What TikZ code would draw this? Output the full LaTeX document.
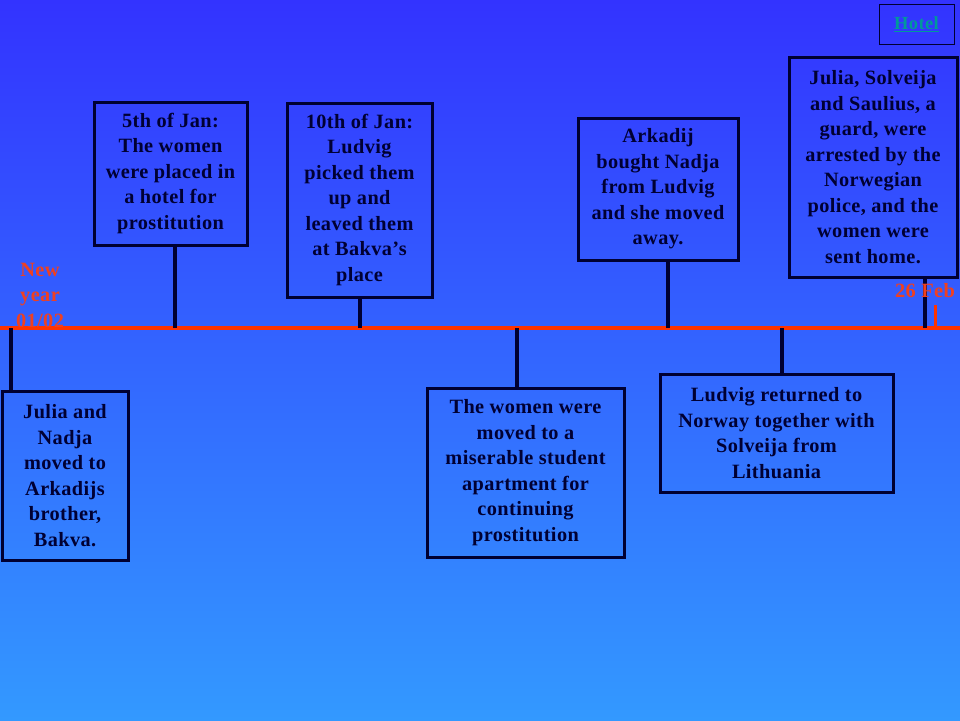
\documentclass[tikz,border=0pt]{standalone}
\usepackage{fontspec}
\setmainfont{Liberation Serif}
\newfontfamily\slidefont[LetterSpace=2]{Liberation Serif}
\definecolor{bgtop}{HTML}{3333FF}
\definecolor{bgbottom}{HTML}{3399FF}
\definecolor{ink}{HTML}{000033}
\definecolor{timered}{HTML}{FF3300}
\definecolor{datered}{HTML}{F04020}
\definecolor{linkteal}{HTML}{009999}
\begin{document}
\begin{tikzpicture}[x=1pt,y=-1pt]
\tikzstyle{event} = [rectangle, draw=ink, line width=3pt, text=ink, align=center, inner sep=0pt, font=\slidefont\bfseries\fontsize{20.3}{25.5}\selectfont]
\tikzstyle{stem} = [draw=ink, line width=3.5pt]
\tikzstyle{date} = [text=datered, align=center, font=\slidefont\bfseries\fontsize{20.3}{25.5}\selectfont]

\useasboundingbox (0,0) rectangle (960,720);
\shade[top color=bgtop, bottom color=bgbottom] (0,0) rectangle (960,720);

% timeline
\coordinate (start) at (0,328);
\coordinate (end) at (960,328);
\draw [draw=timered, line width=4pt] (start) -- (end);

% events
\node (bakva) [event, minimum width=126pt, minimum height=169pt] at (65,475.5) {Julia and\\Nadja\\moved to\\Arkadijs\\brother,\\Bakva.};
\node (hotelstay) [event, minimum width=153pt, minimum height=143pt] at (170.5,173.5) {5th of Jan:\\The women\\were placed in\\a hotel for\\prostitution};
\node (pickup) [event, minimum width=145pt, minimum height=194pt] at (359.5,200) {10th of Jan:\\Ludvig\\picked them\\up and\\leaved them\\at Bakva’s\\place};
\node (student) [event, minimum width=197pt, minimum height=169pt] at (525.5,472.5) {The women were\\moved to a\\miserable student\\apartment for\\continuing\\prostitution};
\node (bought) [event, minimum width=160pt, minimum height=142pt] at (658,189) {Arkadij\\bought Nadja\\from Ludvig\\and she moved\\away.};
\node (returned) [event, minimum width=233pt, minimum height=118pt] at (776.5,433) {Ludvig returned to\\Norway together with\\Solveija from\\Lithuania};
\node (arrest) [event, minimum width=168pt, minimum height=220pt] at (873,167) {Julia, Solveija\\and Saulius, a\\guard, were\\arrested by the\\Norwegian\\police, and the\\women were\\sent home.};

% stems
\coordinate (t1) at (11,328);
\coordinate (t2) at (175,328);
\coordinate (t3) at (360,328);
\coordinate (t4) at (517,328);
\coordinate (t5) at (668,328);
\coordinate (t6) at (782,328);
\coordinate (t7) at (925,328);
\draw [stem] (t1) -- (t1 |- bakva.north);
\draw [stem] (t2) -- (t2 |- hotelstay.south);
\draw [stem] (t3) -- (t3 |- pickup.south);
\draw [stem] (t4) -- (t4 |- student.north);
\draw [stem] (t5) -- (t5 |- bought.south);
\draw [stem] (t6) -- (t6 |- returned.north);
\draw [stem] (t7) -- (t7 |- arrest.south);

% dates
\node (newyear) [date] at (40,295) {New\\year\\01/02};
\node (feb) [date] at (925,291) {26 Feb};
\coordinate (febtick) at (935,305);
\draw [draw=timered, line width=3pt] (febtick) -- (febtick |- end);

\node (hotel) [draw=ink, line width=1pt, minimum width=75pt, minimum height=40pt, text=linkteal, font=\slidefont\bfseries\fontsize{18.5}{20}\selectfont] at (916.5,24) {\underline{Hotel}};
\end{tikzpicture}
\end{document}
